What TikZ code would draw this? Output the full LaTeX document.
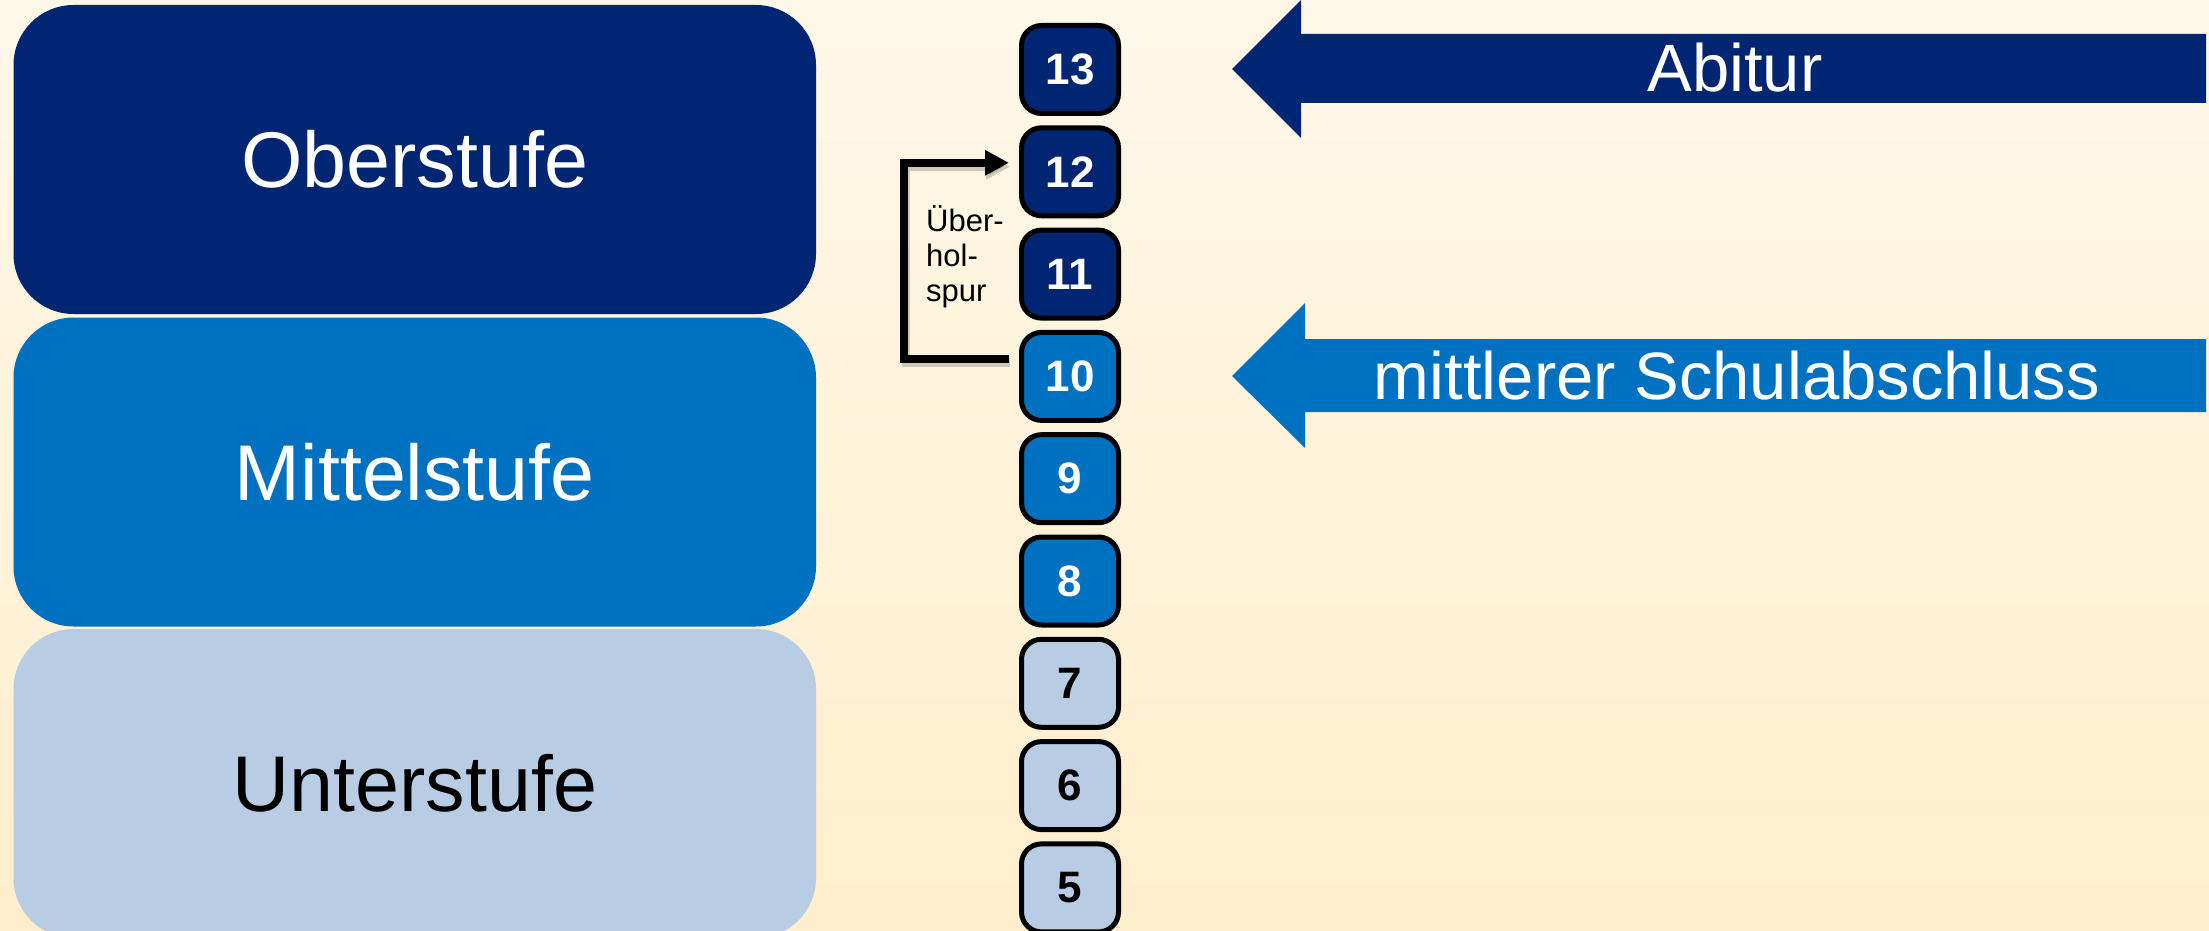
\documentclass[tikz,border=0pt]{standalone}
\usepackage{fontspec}
\setmainfont{Liberation Sans}
\usetikzlibrary{arrows.meta}
\definecolor{navy}{RGB}{0,38,115}
\definecolor{midblue}{RGB}{0,112,192}
\definecolor{lightblue}{RGB}{184,204,228}
\definecolor{bgtop}{RGB}{254,248,233}
\definecolor{bgbot}{RGB}{255,238,204}
\tikzset{
  stage/.style={rounded corners=60pt, inner sep=0pt, minimum width=802.5pt, minimum height=309pt,
    font=\fontsize{79}{90}\selectfont},
  grade/.style={draw=black, line width=5pt, rounded corners=20pt, inner sep=0pt,
    minimum width=97pt, minimum height=88pt, font=\fontsize{44}{50}\selectfont\bfseries},
  gdark/.style={grade, fill=navy, text=white},
  gmid/.style={grade, fill=midblue, text=white},
  glight/.style={grade, fill=lightblue, text=black},
  bigtext/.style={text=white, inner sep=0pt, font=\fontsize{67}{80}\selectfont},
  bracket/.style={line width=8pt, -{Triangle[length=24pt,width=24pt]}},
  bracketshadow/.style={line width=8pt, draw=black, opacity=0.18, -{Triangle[length=24pt,width=24pt]}}
}
\begin{document}
\begin{tikzpicture}[x=1pt,y=-1pt]
\useasboundingbox (0,0) rectangle (2209,931);
\shade[top color=bgtop,bottom color=bgbot] (0,0) rectangle (2209,931);

% stage boxes
\node[stage, fill=navy, text=white] (ober) at (414.75,159.5) {Oberstufe};
\node[stage, fill=midblue, text=white] (mittel) at (414.75,472) {Mittelstufe};
\node[stage, fill=lightblue, text=black] (unter) at (414.75,783.5) {Unterstufe};

% grade boxes
\node[gdark] (g13) at (1070,69.5) {13};
\node[gdark] (g12) at (1070,171.8) {12};
\node[gdark] (g11) at (1070,274.1) {11};
\node[gmid] (g10) at (1070,376.4) {10};
\node[gmid] (g9) at (1070,478.7) {9};
\node[gmid] (g8) at (1070,581.0) {8};
\node[glight] (g7) at (1070,683.3) {7};
\node[glight] (g6) at (1070,785.6) {6};
\node[glight] (g5) at (1070,887.9) {5};

% Ueberholspur bracket
\coordinate (bstart) at ([xshift=-10pt,yshift=17pt]g10.west);
\coordinate (bend) at ([xshift=-10pt,yshift=9pt]g12.west);
\draw[bracketshadow] ([shift={(1,4)}]bstart) -- ++(-104,0) |- ([shift={(1,4)}]bend);
\draw[bracket] (bstart) -- ++(-105,0) |- (bend);
\node[anchor=north west, align=left, inner sep=0pt, font=\fontsize{31}{35}\selectfont] (ueber) at (926,205) {Über-\\hol-\\spur};

% big arrows
\fill[navy] (1232,69) -- (1301,0) -- (1301,34) -- (2206,34) -- (2206,103) -- (1301,103) -- (1301,138) -- cycle;
\node[bigtext] (abitur) at (1735,68) {Abitur};
\fill[midblue] (1232,376) -- (1305,303) -- (1305,339) -- (2206,339) -- (2206,412) -- (1305,412) -- (1305,448) -- cycle;
\node[bigtext] (msa) at (1737,376) {mittlerer Schulabschluss};
\end{tikzpicture}
\end{document}
